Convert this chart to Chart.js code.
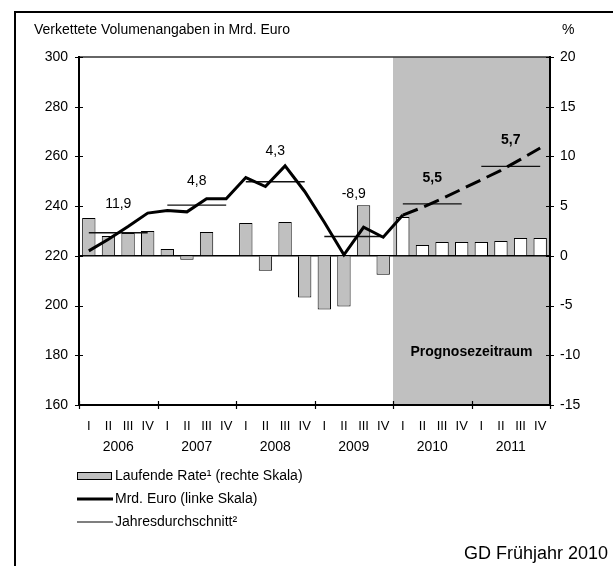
<!DOCTYPE html>
<html>
<head>
<meta charset="utf-8">
<script src="https://cdn.jsdelivr.net/npm/chart.js@4.4.0/dist/chart.umd.min.js"></script>
<style>
  html, body { margin: 0; padding: 0; background: #fff; }
  canvas { display: block; }
</style>
</head>
<body>
<canvas id="chart" width="613" height="566"></canvas>
<script>
// Quarterly data 2006 - 2011
const quarters = ['I', 'II', 'III', 'IV', 'I', 'II', 'III', 'IV', 'I', 'II', 'III', 'IV',
                  'I', 'II', 'III', 'IV', 'I', 'II', 'III', 'IV', 'I', 'II', 'III', 'IV'];
const years = ['2006', '2007', '2008', '2009', '2010', '2011'];

// Laufende Rate (rechte Skala, %)
const rate = [3.8, 2.0, 2.3, 2.5, 0.7, -0.4, 2.4, 0.0,
              3.3, -1.5, 3.4, -4.2, -5.4, -5.1, 5.1, -1.9,
              3.9, 1.1, 1.4, 1.4, 1.4, 1.5, 1.8, 1.8];

// Mrd. Euro (linke Skala)
const mrdEuro = [222.0, 226.7, 231.8, 237.2, 238.2, 237.7, 243.0, 243.0,
                 251.5, 247.9, 256.2, 245.9, 233.5, 220.4, 231.5, 227.5,
                 236.4, 239.5, 243.0, 246.8, 250.6, 254.4, 258.8, 263.4];

// Jahresdurchschnitt (linke Skala)
const yearAvg = [229.3, 240.4, 249.8, 227.8, 240.9, 256.0];

// annual growth rates written above each year
const growth = ['11,9', '4,8', '4,3', '-8,9', '5,5', '5,7'];
const growthBold = [false, false, false, false, true, true];

const forecastStart = 16; // 2010 Q1

// where the growth labels sit (left scale units)
const growthLabelLevel = [240.9, 250.2, 262.3, 245.0, 251.4, 266.7];

const FONT = '"Liberation Sans", Arial, sans-serif';
Chart.defaults.font.family = FONT;
Chart.defaults.font.size = 14;
Chart.defaults.color = '#000';

// one dataset per year for the average lines
const avgSets = yearAvg.map(function (v, y) {
    const d = quarters.map(function (q, i) {
        return Math.floor(i / 4) === y ? v : null;
    });
    return {
        type: 'line',
        label: 'Jahresdurchschnitt' + y,
        data: d,
        yAxisID: 'y',
        borderColor: '#111',
        borderWidth: 1.4,
        pointRadius: 0,
        spanGaps: false,
        order: 1
    };
});

const decor = {
    id: 'decor',
    beforeDraw(chart) {
        const ctx = chart.ctx;
        const a = chart.chartArea;
        const x = chart.scales.x;
        const fx = (x.getPixelForValue(forecastStart - 1) + x.getPixelForValue(forecastStart)) / 2;
        ctx.save();
        ctx.fillStyle = '#c0c0c0';
        ctx.fillRect(fx, a.top, a.right - fx, a.bottom - a.top);
        // top border of the plot
        ctx.strokeStyle = '#333';
        ctx.lineWidth = 1.5;
        ctx.beginPath();
        ctx.moveTo(a.left, a.top);
        ctx.lineTo(a.right, a.top);
        ctx.stroke();
        // zero line
        const y0 = chart.scales.y1.getPixelForValue(0);
        ctx.strokeStyle = '#000';
        ctx.lineWidth = 1.5;
        ctx.beginPath();
        ctx.moveTo(a.left, y0);
        ctx.lineTo(a.right, y0);
        ctx.stroke();
        ctx.restore();
    },
    afterDraw(chart) {
        const ctx = chart.ctx;
        const a = chart.chartArea;
        const x = chart.scales.x;
        const yl = chart.scales.y;
        const yr = chart.scales.y1;
        ctx.save();

        // outer frame
        ctx.strokeStyle = '#000';
        ctx.lineWidth = 2;
        ctx.beginPath();
        ctx.moveTo(15, 566);
        ctx.lineTo(15, 12);
        ctx.lineTo(613, 12);
        ctx.stroke();

        // tick marks crossing the axes
        ctx.lineWidth = 1.2;
        ctx.beginPath();
        yl.ticks.forEach(function (t) {
            const p = Math.round(yl.getPixelForValue(t.value)) + 0.5;
            ctx.moveTo(a.left - 4, p);
            ctx.lineTo(a.left + 4, p);
        });
        yr.ticks.forEach(function (t) {
            const p = Math.round(yr.getPixelForValue(t.value)) + 0.5;
            ctx.moveTo(a.right - 4, p);
            ctx.lineTo(a.right + 4, p);
        });
        for (let k = 0; k <= years.length; k++) {
            const p = Math.round(x.getPixelForValue(k * 4 - 0.5)) + 0.5;
            ctx.moveTo(p, a.bottom - 4);
            ctx.lineTo(p, a.bottom + 4);
        }
        ctx.stroke();

        // year labels
        ctx.fillStyle = '#000';
        ctx.font = '14px ' + FONT;
        ctx.textAlign = 'center';
        ctx.textBaseline = 'middle';
        years.forEach(function (yv, k) {
            ctx.fillText(yv, x.getPixelForValue(k * 4 + 1.5), 447);
        });

        // growth labels
        growth.forEach(function (g, k) {
            ctx.font = (growthBold[k] ? 'bold ' : '') + '14px ' + FONT;
            ctx.fillText(g, x.getPixelForValue(k * 4 + 1.5), yl.getPixelForValue(growthLabelLevel[k]));
        });

        // forecast label
        const fx = (x.getPixelForValue(forecastStart - 1) + x.getPixelForValue(forecastStart)) / 2;
        ctx.font = 'bold 14px ' + FONT;
        ctx.fillText('Prognosezeitraum', (fx + a.right) / 2, 352);

        // axis titles
        ctx.font = '14px ' + FONT;
        ctx.textAlign = 'left';
        ctx.fillText('Verkettete Volumenangaben in Mrd. Euro', 34, 30);
        ctx.fillText('%', 562, 30);

        // legend
        ctx.fillStyle = '#c0c0c0';
        ctx.fillRect(77, 472, 35, 7);
        ctx.strokeStyle = '#000';
        ctx.lineWidth = 1;
        ctx.strokeRect(77.5, 472.5, 34, 7);
        ctx.lineWidth = 3;
        ctx.beginPath();
        ctx.moveTo(77, 499);
        ctx.lineTo(113, 499);
        ctx.stroke();
        ctx.lineWidth = 1.2;
        ctx.beginPath();
        ctx.moveTo(77, 522);
        ctx.lineTo(113, 522);
        ctx.stroke();
        ctx.fillStyle = '#000';
        ctx.fillText('Laufende Rate\u00b9 (rechte Skala)', 115, 476);
        ctx.fillText('Mrd. Euro (linke Skala)', 115, 499);
        ctx.fillText('Jahresdurchschnitt\u00b2', 115, 522);

        // source
        ctx.font = '18px ' + FONT;
        ctx.textAlign = 'right';
        ctx.fillText('GD Fr\u00fchjahr 2010', 608, 554);
        ctx.restore();
    }
};

const data = {
    labels: quarters,
    datasets: [
        {
            type: 'line',
            label: 'Mrd. Euro (linke Skala)',
            data: mrdEuro,
            yAxisID: 'y',
            borderColor: '#000',
            borderWidth: 3,
            pointRadius: 0,
            tension: 0,
            segment: {
                borderDash: function (c) { return c.p0DataIndex >= forecastStart ? [16, 7] : undefined; }
            },
            order: 0
        },
        ...avgSets,
        {
            type: 'bar',
            label: 'Laufende Rate (rechte Skala)',
            data: rate,
            yAxisID: 'y1',
            backgroundColor: rate.map(function (v, i) { return i >= forecastStart ? '#fff' : '#c0c0c0'; }),
            borderColor: '#000',
            borderWidth: 1,
            barPercentage: 0.68,
            categoryPercentage: 1,
            order: 2
        }
    ]
};

const options = {
    responsive: false,
    animation: false,
    devicePixelRatio: 1,
    layout: { padding: { top: 57, left: 0, right: 0, bottom: 0 } },
    plugins: {
        legend: { display: false },
        tooltip: { enabled: false }
    },
    scales: {
        x: {
            offset: true,
            grid: { drawOnChartArea: false, drawTicks: false },
            border: { color: '#000', width: 2 },
            ticks: { padding: 14, autoSkip: false, maxRotation: 0, font: { size: 13 } },
            afterFit: function (s) { s.height = 161; }
        },
        y: {
            position: 'left',
            min: 160,
            max: 300,
            grid: { drawOnChartArea: false, drawTicks: false },
            border: { color: '#000', width: 2 },
            ticks: { stepSize: 20, padding: 11 },
            afterFit: function (s) { s.width = 79; }
        },
        y1: {
            position: 'right',
            min: -15,
            max: 20,
            grid: { drawOnChartArea: false, drawTicks: false },
            border: { color: '#000', width: 2 },
            ticks: { stepSize: 5, padding: 10 },
            afterFit: function (s) { s.width = 63; }
        }
    }
};

const ctx = document.getElementById('chart').getContext('2d');
const myChart = new Chart(ctx, {
    type: 'bar',
    data: data,
    options: options,
    plugins: [decor]
});
</script>
</body>
</html>
